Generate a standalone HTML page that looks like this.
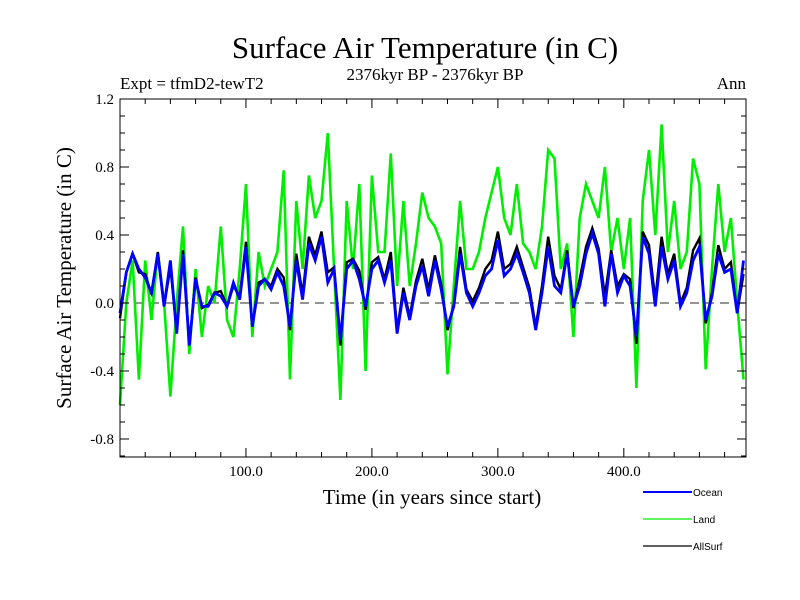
<!DOCTYPE html>
<html><head><meta charset="utf-8">
<style>
body{margin:0;background:#fff;}
svg{display:block;}
text{font-family:"Liberation Serif",serif;fill:#000;}
.sans{font-family:"Liberation Sans",sans-serif;}
</style></head>
<body>
<svg id="chart" width="800" height="600">
<text x="425" y="58" font-size="31" text-anchor="middle">Surface Air Temperature (in C)</text>
<text x="435" y="80" font-size="17" text-anchor="middle">2376kyr BP - 2376kyr BP</text>
<text x="120" y="89" font-size="17">Expt = tfmD2-tewT2</text>
<text x="746" y="89" font-size="17" text-anchor="end">Ann</text>
<text x="0" y="0" font-size="21" text-anchor="middle" transform="translate(71,278) rotate(-90)">Surface Air Temperature (in C)</text>
<text x="432" y="504" font-size="21" text-anchor="middle">Time (in years since start)</text>
<g id="plot"></g>
<g id="legend"></g>
</svg>
<script>
const years = [];
for (let i = 0; i <= 99; i++) years.push(i * 5);
const ocean = [-0.06,0.18,0.29,0.20,0.15,0.06,0.29,-0.02,0.25,-0.18,0.29,-0.25,0.14,-0.02,-0.02,0.06,0.04,-0.02,0.12,0.02,
0.33,-0.14,0.10,0.14,0.08,0.18,0.10,-0.14,0.25,0.02,0.35,0.25,0.39,0.12,0.20,-0.22,0.20,0.25,0.14,-0.02,
0.20,0.25,0.12,0.25,-0.18,0.06,-0.10,0.10,0.22,0.04,0.25,0.08,-0.14,-0.02,0.29,0.06,-0.02,0.06,0.16,0.20,
0.37,0.16,0.20,0.29,0.18,0.06,-0.16,0.06,0.33,0.10,0.06,0.29,-0.02,0.10,0.29,0.41,0.29,-0.02,0.29,0.06,
0.16,0.10,-0.20,0.39,0.29,-0.02,0.33,0.14,0.25,-0.02,0.06,0.25,0.33,-0.10,0.04,0.29,0.18,0.20,-0.06,0.25];
const land = [-0.60,0.00,0.25,-0.45,0.25,-0.10,0.30,0.00,-0.55,0.00,0.45,-0.30,0.20,-0.20,0.10,0.00,0.45,-0.10,-0.20,0.20,
0.70,-0.20,0.30,0.10,0.20,0.30,0.78,-0.45,0.60,0.20,0.75,0.50,0.60,1.00,0.20,-0.57,0.60,0.20,0.70,-0.40,
0.75,0.30,0.30,0.88,0.10,0.60,0.10,0.35,0.65,0.50,0.45,0.35,-0.42,0.10,0.60,0.20,0.20,0.30,0.50,0.65,
0.80,0.50,0.40,0.70,0.35,0.30,0.20,0.45,0.90,0.85,0.20,0.35,-0.20,0.50,0.70,0.60,0.50,0.80,0.30,0.50,
0.20,0.50,-0.50,0.60,0.90,0.40,1.05,0.30,0.60,0.20,0.30,0.85,0.70,-0.39,0.20,0.70,0.30,0.50,0.00,-0.45];
const allsurf = [-0.09,0.18,0.29,0.18,0.17,0.05,0.30,-0.02,0.21,-0.17,0.31,-0.25,0.15,-0.03,-0.01,0.06,0.07,-0.02,0.10,0.04,
0.36,-0.14,0.12,0.14,0.10,0.20,0.15,-0.16,0.29,0.05,0.39,0.28,0.42,0.18,0.21,-0.25,0.24,0.26,0.19,-0.04,
0.24,0.27,0.14,0.30,-0.16,0.09,-0.08,0.13,0.26,0.08,0.28,0.11,-0.16,-0.01,0.33,0.08,0.01,0.09,0.20,0.25,
0.42,0.20,0.23,0.33,0.21,0.09,-0.14,0.10,0.39,0.16,0.08,0.31,-0.03,0.14,0.33,0.44,0.32,0.04,0.31,0.10,
0.17,0.14,-0.24,0.42,0.34,0.02,0.39,0.17,0.29,0.00,0.09,0.31,0.38,-0.12,0.06,0.34,0.20,0.24,-0.06,0.17];
const yTicks = [-0.8,-0.4,0.0,0.4,0.8,1.2];
const yTickLabels = ["-0.8","-0.4","0.0","0.4","0.8","1.2"];
const xTicks = [100,200,300,400];
const xTickLabels = ["100.0","200.0","300.0","400.0"];
const seriesNames = ["Ocean","Land","AllSurf"];
const seriesColors = ["#0000ff","#00ee00","#000000"];

const L=120,R=746,T=99,B=457;
const xMin=0,xMax=497,yMin=-0.906,yMax=1.2;
function xs(v){return L+(v-xMin)/(xMax-xMin)*(R-L);}
function ys(v){return B-(v-yMin)/(yMax-yMin)*(B-T);}
const NS="http://www.w3.org/2000/svg";
const plot=document.getElementById('plot');
function mk(tag,attrs,parent){const e=document.createElementNS(NS,tag);for(const k in attrs)e.setAttribute(k,attrs[k]);(parent||plot).appendChild(e);return e;}

const zl=mk('line',{x1:L,x2:R,y1:ys(0),y2:ys(0),stroke:'#555','stroke-width':1.3,'stroke-dasharray':'9,6'});



function drawSeries(vals,color,name,w){
  let d='';
  vals.forEach((v,i)=>{d+=(i?'L':'M')+xs(years[i]).toFixed(1)+','+ys(v).toFixed(1);});
  const p=mk('path',{d:d,fill:'none',stroke:color,'stroke-width':w,'stroke-linejoin':'miter'});
  
  
}
drawSeries(land,seriesColors[1],'land-line',2.6);
drawSeries(allsurf,seriesColors[2],'allsurf-line',2.4);
drawSeries(ocean,seriesColors[0],'ocean-line',2.8);

const frame=mk('rect',{x:L,y:T,width:R-L,height:B-T,fill:'none',stroke:'#000','stroke-width':1});



for(let v=-0.9;v<=1.21;v+=0.1){
  const y=ys(v);const major=Math.abs(Math.round(v*10)%4)===0;const len=major?9:5;
  const t1=mk('line',{x1:L,x2:L+len,y1:y,y2:y,stroke:'#000'});
  
  
  const t2=mk('line',{x1:R,x2:R-len,y1:y,y2:y,stroke:'#000'});
  
  
}
yTicks.forEach((v,i)=>{
  const t=mk('text',{x:L-6,y:ys(v)+5,'font-size':15,'text-anchor':'end'});
  t.textContent=yTickLabels[i];
  
  
});
for(let v=20;v<xMax;v+=20){
  const x=xs(v);const major=v%100===0;const len=major?9:5;
  const t1=mk('line',{x1:x,x2:x,y1:B,y2:B-len,stroke:'#000'});
  
  
  const t2=mk('line',{x1:x,x2:x,y1:T,y2:T+len,stroke:'#000'});
  
  
}
xTicks.forEach((v,i)=>{
  const t=mk('text',{x:xs(v),y:B+19,'font-size':15,'text-anchor':'middle'});
  t.textContent=xTickLabels[i];
  
  
});

const leg=document.getElementById('legend');
seriesNames.forEach((n,i)=>{
  const y=492+i*27;
  const g=mk('g',{},leg);
  
  
  mk('line',{x1:643,x2:692,y1:y,y2:y,stroke:seriesColors[i],'stroke-width':i===0?2:1.3},g);
  const t=mk('text',{x:693,y:y+4,'font-size':10,class:'sans'},g);
  t.textContent=n;
});
</script>
</body></html>
